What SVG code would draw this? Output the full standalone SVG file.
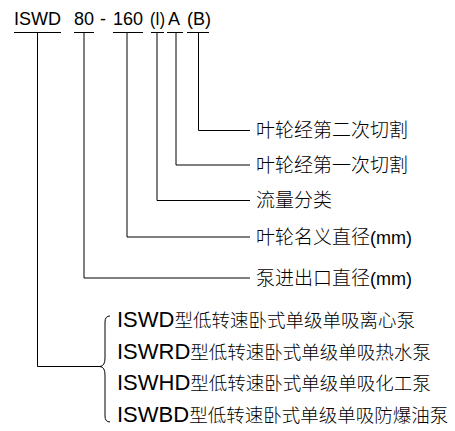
<svg xmlns="http://www.w3.org/2000/svg" width="455" height="431" viewBox="0 0 455 431">
<style>
.ln{fill:none;stroke:#000;stroke-width:1}
.top{font-family:"Liberation Sans",Arial,sans-serif;font-size:18px;fill:#000}
.lbl{font-family:"Liberation Sans","Noto Sans CJK SC",sans-serif;font-size:18px;fill:#000}
.cjk{font-family:"Noto Sans CJK SC",sans-serif;font-size:19px;font-weight:300}
.cjk2{font-family:"Noto Sans CJK SC",sans-serif;font-size:18.5px;font-weight:300}
.lat{font-family:"Liberation Sans",Arial,sans-serif;font-size:22px}
.row{fill:#000}
</style>
<rect width="455" height="431" fill="#fff"/>
<g id="code">
<text class="top" x="14" y="25">ISWD</text>
<text class="top" x="74" y="25">80</text>
<text class="top" x="100" y="25">-</text>
<text class="top" x="113" y="25">160</text>
<text class="top" x="150" y="25" textLength="15" lengthAdjust="spacingAndGlyphs">(I)</text>
<text class="top" x="168" y="25">A</text>
<text class="top" x="187" y="25">(B)</text>
</g>
<g id="connectors">
<path class="ln" d="M14,32.5H61M74,32.5H94M113,32.5H143M151,32.5H164M167,32.5H183M187,32.5H209"/>
<path class="ln" d="M198.5,32.5V130.5H250"/>
<path class="ln" d="M176,32.5V165H250"/>
<path class="ln" d="M157,32.5V200.5H250"/>
<path class="ln" d="M127,32.5V237H250"/>
<path class="ln" d="M84,32.5V278H250"/>
<path class="ln" d="M37.5,32.5V366.5H100"/>
<path class="ln" d="M110,316Q105,316 105,322V358Q105,366 100,366.5Q105,367 105,375V416Q105,422 110,422"/>
</g>
<g id="label-B"><text class="lbl cjk" x="256" y="137">叶轮经第二次切割</text></g>
<g id="label-A"><text class="lbl cjk" x="256" y="172">叶轮经第一次切割</text></g>
<g id="label-I"><text class="lbl cjk" x="256" y="207">流量分类</text></g>
<g id="label-160"><text class="lbl" x="256" y="244"><tspan class="cjk">叶轮名义直径</tspan>(mm)</text></g>
<g id="label-80"><text class="lbl" x="256" y="285"><tspan class="cjk">泵进出口直径</tspan>(mm)</text></g>
<g id="types">
<text class="row" x="117" y="327"><tspan class="lat">ISWD</tspan><tspan class="cjk2">型低转速卧式单级单吸离心泵</tspan></text>
<text class="row" x="117" y="358.5"><tspan class="lat">ISWRD</tspan><tspan class="cjk2">型低转速卧式单级单吸热水泵</tspan></text>
<text class="row" x="117" y="390"><tspan class="lat">ISWHD</tspan><tspan class="cjk2">型低转速卧式单级单吸化工泵</tspan></text>
<text class="row" x="117" y="421.5"><tspan class="lat">ISWBD</tspan><tspan class="cjk2">型低转速卧式单级单吸防爆油泵</tspan></text>
</g>
</svg>
